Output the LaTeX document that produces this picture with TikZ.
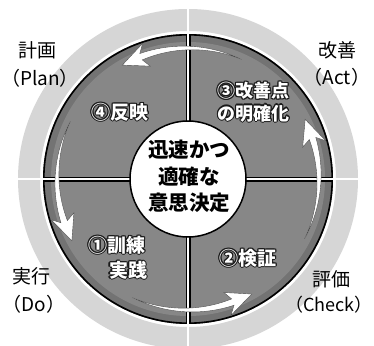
\documentclass[tikz,border=0pt]{standalone}
\usepackage{fontspec}
\newfontfamily\jp{Noto Sans CJK JP}
\definecolor{diskgray}{gray}{0.53}
\definecolor{bandgray}{gray}{0.45}
\definecolor{ringgray}{gray}{0.84}
\tikzset{
  corner/.style={font=\jp\fontsize{19}{24}\selectfont, inner sep=0pt, text=black},
  quad/.style={font=\jp\bfseries\fontsize{19}{23}\selectfont, inner sep=0pt, align=center},
  centertext/.style={font=\jp\bfseries\fontsize{20.5}{26.5}\selectfont, inner sep=0pt, align=center},
  arrowbody/.style={fill=white, draw=black!70, line width=0.4pt},
}
\newcommand\outlined[3][]{%
  \foreach \oa in {0,45,...,315}{\path (#2) ++(\oa:1.1) node[quad,text=black!90,#1]{#3};}
  \node[quad,text=white,#1] (t#2) at (#2) {#3};
}
\newcommand\cycarrow[1]{%
  \pgfmathsetmacro\cyA{#1-26}%
  \pgfmathsetmacro\cyB{#1+19}%
  \pgfmathsetmacro\cyC{#1+28}%
  \filldraw[arrowbody]
    plot[domain=\cyA:\cyB,samples=30] (\x:{131+3.4*(\x-\cyA)/(\cyB-\cyA)})
    -- ({\cyB-2.5}:143) -- (\cyC:131.5) -- ({\cyB-2.5}:119)
    -- plot[domain=\cyB:\cyA,samples=30] (\x:{131-3.4*(\x-\cyA)/(\cyB-\cyA)})
    -- cycle;
}
\begin{document}
\begin{tikzpicture}[x=1pt,y=1pt]
\useasboundingbox (-188,-166) rectangle (186,179);
\clip (-188,-166) rectangle (186,179);
\fill[white] (-188,-166) rectangle (186,179);
% outer light ring
\fill[ringgray, even odd rule] (0,0) circle (170) (0,0) circle (148);
% dark disk
\fill[bandgray] (0,0) circle (145);
\fill[diskgray] (0,0) circle (137);
\draw[black, line width=1.6pt] (0,0) circle (144.2);
% cross dividers
\coordinate (c0) at (0,0);
\foreach \ang in {0,90,180,270}{
  \draw[black, line width=5pt] (\ang:58) -- (\ang:144);
  \draw[white, line width=2.6pt] (\ang:58) -- (\ang:175);
}
% cycle arrows (counter-clockwise)
\cycarrow{92}
\cycarrow{180}
\cycarrow{271}
\cycarrow{359}
% centre circle
\node[circle, minimum size=116pt, fill=white, draw=black, line width=1.5pt, inner sep=0pt] (hub) at (0,0) {};
\node[centertext] (hubtext) at (1,2.5) {迅速かつ\\適確な\\意思決定};
% quadrant labels
\coordinate (q4) at (-68,67);
\coordinate (q3) at (65.5,77);
\coordinate (q1a) at (-71,-66);
\coordinate (q1b) at (-60,-91);
\coordinate (q2) at (60,-79);
\outlined{q4}{④反映}
\outlined[font=\jp\bfseries\fontsize{18}{22.5}\selectfont]{q3}{③改善点\\の明確化}
\outlined{q1a}{①訓練}
\outlined{q1b}{実践}
\outlined{q2}{②検証}
% corner labels
\node[corner] (plan1) at (-150,129) {計画};
\node[corner] (plan2) at (-148,101) {（Plan）};
\node[corner] (act1) at (149,129) {改善};
\node[corner] (act2) at (149,102) {（Act）};
\node[corner] (do1) at (-156,-97) {実行};
\node[corner] (do2) at (-154,-125) {（Do）};
\node[corner] (chk1) at (143,-100) {評価};
\node[corner, font=\jp\fontsize{18}{24}\selectfont] (chk2) at (141,-126) {（Check）};
\end{tikzpicture}
\end{document}
